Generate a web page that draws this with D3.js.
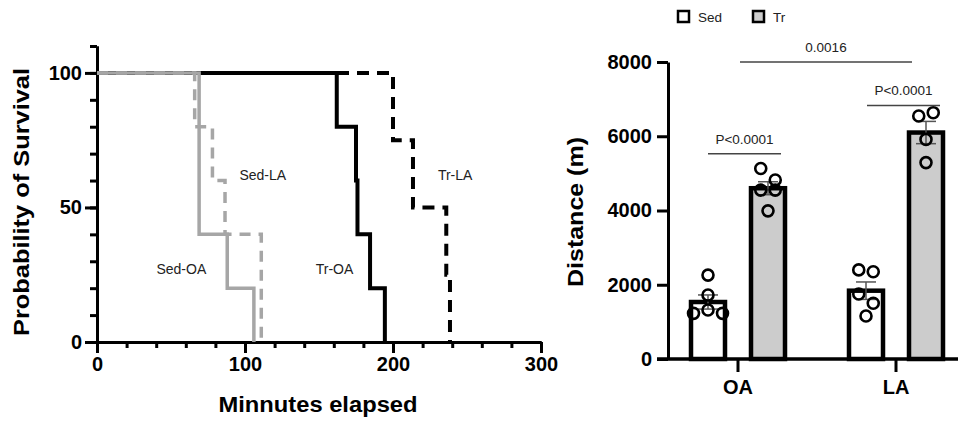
<!DOCTYPE html>
<html>
<head>
<meta charset="utf-8">
<script src="https://cdn.jsdelivr.net/npm/d3@7"></script>
<style>
  body { margin: 0; background: #fff; }
  svg { font-family: Arial, 'Liberation Sans', sans-serif; }
  .axis path, .axis line { stroke: #000; stroke-width: 3; }
  .axis text { font-size: 20px; font-weight: bold; fill: #000; }
  .title { font-size: 22px; font-weight: bold; }
  .lab { font-size: 13.5px; fill: #222; }
</style>
</head>
<body>
<svg width="960" height="425"></svg>
<script>
// ---------------- survival data (time in minutes, % surviving)
const sedOATime = [0, 69, 88, 106];
const sedOASurv = [100, 40, 20, 0];
const sedLATime = [0, 66, 78, 86.5, 111];
const sedLASurv = [100, 80, 60, 40, 0];
const trOATime  = [0, 162, 175, 176, 184.5, 194.5];
const trOASurv  = [100, 80, 60, 40, 20, 0];
const trLATime  = [0, 200, 213.5, 236, 238.5];
const trLASurv  = [100, 75, 50, 25, 0];
const survTicks = [0, 50, 100];
const timeTicks = [0, 100, 200, 300];
const curveNames = ['Sed-LA', 'Sed-OA', 'Tr-OA', 'Tr-LA'];

// ---------------- distance data
const groups = ['OA', 'LA'];
const series = ['Sed', 'Tr'];
const sedMean = [1535, 1840];
const sedSem  = [190, 235];
const trMean  = [4600, 6100];
const trSem   = [175, 300];
const sedPts  = [[2260, 1725, 1230, 1320, 1230], [2400, 2350, 1750, 1160, 1500]];
const trPts   = [[5130, 4820, 4550, 4550, 3990], [6545, 6635, 5915, 5290]];
const distTicks = [0, 2000, 4000, 6000, 8000];
const pLabels = ['P<0.0001', 'P<0.0001', '0.0016'];

const svg = d3.select('svg');

//================ LEFT: survival curves =====================
const x = d3.scaleLinear().domain([0, 300]).range([97, 541]);
const y = d3.scaleLinear().domain([0, 110]).range([342, 46]);

// minor ticks
svg.append('g').attr('class', 'axis')
  .attr('transform', 'translate(0,342)')
  .call(d3.axisBottom(x).tickValues(d3.range(0, 301, 20)).tickSize(6).tickSizeOuter(0).tickFormat(''));
svg.append('g').attr('class', 'axis')
  .attr('transform', 'translate(97,0)')
  .call(d3.axisLeft(y).tickValues(d3.range(0, 111, 10)).tickSize(7).tickSizeOuter(0).tickFormat(''));
// major ticks
svg.append('g').attr('class', 'axis')
  .attr('transform', 'translate(0,342)')
  .call(d3.axisBottom(x).tickValues(timeTicks).tickSize(11).tickSizeOuter(0).tickPadding(4));
svg.append('g').attr('class', 'axis')
  .attr('transform', 'translate(97,0)')
  .call(d3.axisLeft(y).tickValues(survTicks).tickSize(12).tickSizeOuter(0).tickPadding(3));

const step = d3.line()
  .x(d => x(d[0]))
  .y(d => y(d[1]))
  .curve(d3.curveStepAfter);

const curves = [
  {t: trLATime,  s: trLASurv,  color: '#000', dash: '12,8', w: 4},
  {t: trOATime,  s: trOASurv,  color: '#000', dash: null,   w: 4},
  {t: sedLATime, s: sedLASurv, color: '#a6a6a6', dash: '11,8', w: 3.5},
  {t: sedOATime, s: sedOASurv, color: '#a6a6a6', dash: null,   w: 3.5}
];
curves.forEach(c => {
  svg.append('path')
    .datum(d3.zip(c.t, c.s))
    .attr('d', step)
    .attr('fill', 'none')
    .attr('stroke', c.color)
    .attr('stroke-width', c.w)
    .attr('stroke-dasharray', c.dash);
});

// curve labels, placed in data units
const labelAt = [[112, 62], [57, 27], [160.5, 27], [242, 62]];
curveNames.forEach((n, i) => {
  svg.append('text').attr('class', 'lab')
    .style('font-size', '14px')
    .attr('x', x(labelAt[i][0])).attr('y', y(labelAt[i][1]) + 5)
    .attr('text-anchor', 'middle')
    .text(n);
});

svg.append('text').attr('class', 'title')
  .attr('transform', 'translate(29,202) rotate(-90)')
  .attr('text-anchor', 'middle')
  .attr('textLength', 268)
  .attr('lengthAdjust', 'spacingAndGlyphs')
  .text('Probability of Survival');
svg.append('text').attr('class', 'title')
  .attr('x', 318).attr('y', 412)
  .attr('text-anchor', 'middle')
  .attr('textLength', 199)
  .attr('lengthAdjust', 'spacingAndGlyphs')
  .text('Minnutes elapsed');

//================ RIGHT: distance bars =====================
const gx = d3.scaleBand().domain(groups).range([659, 975]);
const sx = d3.scalePoint().domain(series).range([-30, 30]);
const dy = d3.scaleLinear().domain([0, 8000]).range([359, 62]);
const barW = 34;

svg.append('g').attr('class', 'axis')
  .attr('transform', 'translate(668,0)')
  .call(d3.axisLeft(dy).tickValues(distTicks).tickFormat(d3.format('d'))
    .tickSize(11).tickSizeOuter(0).tickPadding(5));

const xAx = svg.append('g').attr('class', 'axis')
  .attr('transform', 'translate(0,359)')
  .call(d3.axisBottom(gx).tickSize(13).tickSizeOuter(0).tickPadding(8));
xAx.select('.domain').attr('d', 'M657,0H958');

svg.append('text').attr('class', 'title')
  .attr('transform', 'translate(583,212) rotate(-90)')
  .attr('text-anchor', 'middle')
  .attr('textLength', 150)
  .attr('lengthAdjust', 'spacingAndGlyphs')
  .text('Distance (m)');

const cx = (g, s) => gx(g) + gx.bandwidth() / 2 + sx(s);

const bars = [];
groups.forEach((g, i) => {
  bars.push({g, s: 'Sed', mean: sedMean[i], sem: sedSem[i], pts: sedPts[i], fill: '#fff'});
  bars.push({g, s: 'Tr',  mean: trMean[i],  sem: trSem[i],  pts: trPts[i],  fill: '#cccccc'});
});

svg.selectAll('.bar')
  .data(bars)
  .enter().append('rect')
  .attr('class', 'bar')
  .attr('x', d => cx(d.g, d.s) - barW / 2)
  .attr('y', d => dy(d.mean))
  .attr('width', barW)
  .attr('height', d => dy(0) - dy(d.mean))
  .attr('fill', d => d.fill)
  .attr('stroke', '#000')
  .attr('stroke-width', 4.5);

// redraw baseline over bar bottoms
svg.append('line').attr('x1', 657).attr('x2', 958).attr('y1', 359).attr('y2', 359)
  .attr('stroke', '#000').attr('stroke-width', 3);

// error bars
bars.forEach(d => {
  const c = cx(d.g, d.s);
  const eb = svg.append('g').attr('stroke', '#555').attr('stroke-width', 1.5);
  eb.append('line').attr('x1', c).attr('x2', c).attr('y1', dy(d.mean - d.sem)).attr('y2', dy(d.mean + d.sem));
  [d.mean - d.sem, d.mean + d.sem].forEach(v => {
    eb.append('line').attr('x1', c - 10).attr('x2', c + 10).attr('y1', dy(v)).attr('y2', dy(v));
  });
});

// scatter points: rows of close values spread sideways
function dodge(vals) {
  const order = vals.map((v, i) => i).sort((a, b) => vals[b] - vals[a]);
  const rows = [];
  order.forEach(i => {
    const last = rows[rows.length - 1];
    if (last && Math.abs(dy(vals[i]) - dy(vals[last[0]])) < 13) last.push(i);
    else rows.push([i]);
  });
  const off = new Array(vals.length).fill(0);
  rows.forEach(r => {
    const idx = r.slice().sort((a, b) => a - b);
    const n = idx.length;
    idx.forEach((i, k) => { off[i] = (k - (n - 1) / 2) * 14.5; });
  });
  return off;
}

bars.forEach(d => {
  const off = dodge(d.pts);
  d.pts.forEach((v, i) => {
    svg.append('circle')
      .attr('cx', cx(d.g, d.s) + off[i])
      .attr('cy', dy(v))
      .attr('r', 5.5)
      .attr('fill', 'none')
      .attr('stroke', '#000')
      .attr('stroke-width', 2.6);
  });
});

// significance brackets
const sig = [
  {x1: cx('OA', 'Sed'), x2: cx('OA', 'Tr') + 13, v: 5530, t: pLabels[0]},
  {x1: cx('LA', 'Sed') + 1, x2: cx('LA', 'Tr') + 14, v: 6830, t: pLabels[1]},
  {x1: cx('OA', 'Sed') + 32, x2: cx('LA', 'Tr') - 14, v: 8000, t: pLabels[2]}
];
sig.forEach(s => {
  svg.append('line')
    .attr('x1', s.x1).attr('x2', s.x2)
    .attr('y1', dy(s.v)).attr('y2', dy(s.v))
    .attr('stroke', '#444').attr('stroke-width', 1.5);
  svg.append('text').attr('class', 'lab')
    .attr('x', (s.x1 + s.x2) / 2).attr('y', dy(s.v) - 10)
    .attr('text-anchor', 'middle')
    .text(s.t);
});

// legend
series.forEach((s, i) => {
  const lx = 678 + i * 75;
  svg.append('rect').attr('x', lx).attr('y', 11).attr('width', 11).attr('height', 11)
    .attr('fill', i ? '#cccccc' : '#fff').attr('stroke', '#000').attr('stroke-width', 2.5);
  svg.append('text').attr('class', 'lab')
    .attr('x', lx + 20).attr('y', 21.5)
    .text(s);
});
</script>
</body>
</html>
